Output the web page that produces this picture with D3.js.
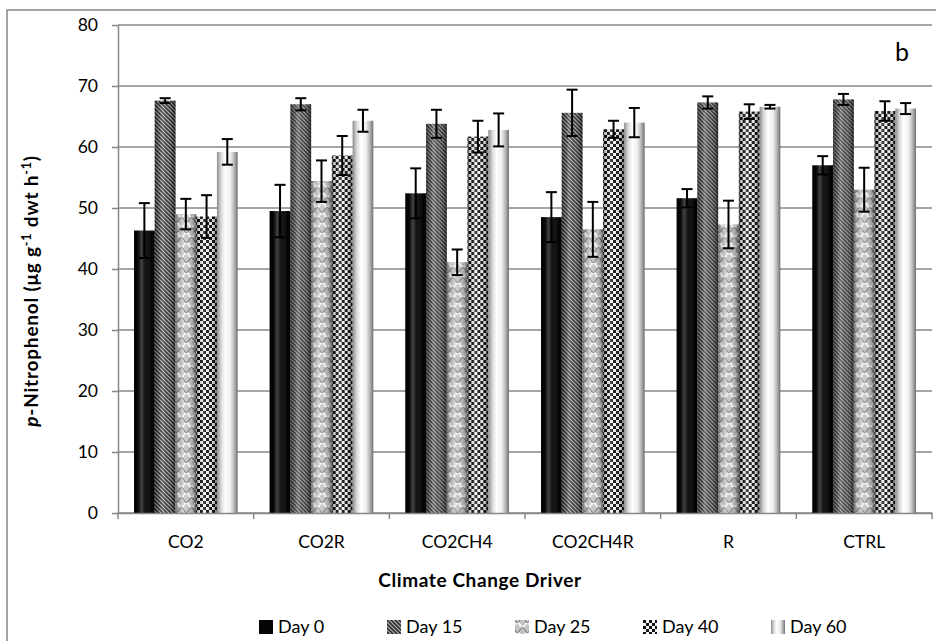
<!DOCTYPE html>
<html>
<head>
<meta charset="utf-8">
<script src="https://cdn.jsdelivr.net/npm/d3@7"></script>
<style>
  body { margin: 0; background: #fff; }
  svg { display: block; font-family: Lato, "Liberation Sans", sans-serif; }
</style>
</head>
<body>
<svg id="chart" width="936" height="641"></svg>
<script>
// data
const drivers = ["CO2", "CO2R", "CO2CH4", "CO2CH4R", "R", "CTRL"];
const days = ["Day 0", "Day 15", "Day 25", "Day 40", "Day 60"];
const day0  = [46.3, 49.5, 52.4, 48.5, 51.6, 57.0];
const day15 = [67.6, 67.0, 63.8, 65.6, 67.3, 67.8];
const day25 = [49.0, 54.4, 41.1, 46.5, 47.3, 53.0];
const day40 = [48.6, 58.6, 61.7, 62.9, 65.8, 65.9];
const day60 = [59.2, 64.3, 62.8, 64.0, 66.6, 66.3];
const err0  = [4.5, 4.3, 4.1, 4.1, 1.5, 1.5];
const err15 = [0.4, 1.0, 2.3, 3.8, 1.0, 0.9];
const err25 = [2.5, 3.4, 2.1, 4.5, 3.9, 3.6];
const err40 = [3.5, 3.2, 2.6, 1.4, 1.2, 1.6];
const err60 = [2.1, 1.8, 2.7, 2.4, 0.3, 0.9];
const yTicks = [0, 10, 20, 30, 40, 50, 60, 70, 80];

const series = [day0, day15, day25, day40, day60];
const errors = [err0, err15, err25, err40, err60];
const rows = [];
drivers.forEach((d, i) => days.forEach((k, j) => rows.push({driver: d, day: k, j, value: series[j][i], err: errors[j][i]})));

const svg = d3.select("#chart");
const grey = "#878787";
const plotL = 118, plotR = 932, plotT = 25, plotB = 513;

const x0 = d3.scaleBand().domain(drivers).range([plotL, plotR]).paddingInner(0.236).paddingOuter(0.118);
const x1 = d3.scaleBand().domain(days).range([0, x0.bandwidth()]);
const y = d3.scaleLinear().domain([0, 80]).range([plotB, plotT]);

// ---- patterns / shading
const defs = svg.append("defs");

const shade = defs.append("linearGradient").attr("id", "shade");
[[0, "#000", 0.45], [0.15, "#000", 0.1], [0.35, "#fff", 0.25], [0.55, "#fff", 0.05], [0.85, "#000", 0.2], [1, "#000", 0.55]]
  .forEach(([o, c, a]) => shade.append("stop").attr("offset", o).attr("stop-color", c).attr("stop-opacity", a));

const p15 = defs.append("pattern").attr("id", "p15").attr("patternUnits", "userSpaceOnUse")
  .attr("width", 4).attr("height", 4);
p15.append("rect").attr("width", 4).attr("height", 4).attr("fill", "#b4b4b4");
p15.append("path").attr("d", "M-1,-1 L5,5 M-1,3 L1,5 M3,-1 L5,1").attr("stroke", "#2e2e2e").attr("stroke-width", 1.6);

const p25 = defs.append("pattern").attr("id", "p25").attr("patternUnits", "userSpaceOnUse")
  .attr("width", 10).attr("height", 10);
p25.append("rect").attr("width", 10).attr("height", 10).attr("fill", "#c4c4c4");
p25.append("path").attr("d", "M0,5 Q2.5,0 5,5 Q7.5,10 10,5").attr("fill", "none").attr("stroke", "#f8f8f8").attr("stroke-width", 2.2);
p25.append("path").attr("d", "M0,0 Q2.5,5 5,0 M5,10 Q7.5,5 10,10").attr("fill", "none").attr("stroke", "#7a7a7a").attr("stroke-width", 1.2);

const p40 = defs.append("pattern").attr("id", "p40").attr("patternUnits", "userSpaceOnUse")
  .attr("width", 6).attr("height", 6);
p40.append("rect").attr("width", 6).attr("height", 6).attr("fill", "#f2f2f2");
p40.append("rect").attr("width", 3).attr("height", 3).attr("fill", "#111");
p40.append("rect").attr("x", 3).attr("y", 3).attr("width", 3).attr("height", 3).attr("fill", "#111");

const g60 = defs.append("linearGradient").attr("id", "g60");
[[0, "#8c8c8c"], [0.2, "#d8d8d8"], [0.4, "#ffffff"], [0.65, "#eeeeee"], [0.85, "#b0b0b0"], [1, "#6e6e6e"]]
  .forEach(([o, c]) => g60.append("stop").attr("offset", o).attr("stop-color", c));

const fills = {"Day 0": "#050505", "Day 15": "url(#p15)", "Day 25": "url(#p25)", "Day 40": "url(#p40)", "Day 60": "url(#g60)"};

// ---- outer frame
svg.append("rect").attr("x", 7).attr("y", 10).attr("width", 960).attr("height", 660)
  .attr("fill", "none").attr("stroke", grey).attr("stroke-width", 1.5);

// ---- gridlines + y axis
svg.append("g").selectAll("line").data(yTicks).join("line")
  .attr("x1", plotL).attr("x2", plotR).attr("y1", d => y(d)).attr("y2", d => y(d))
  .attr("stroke", grey).attr("stroke-width", 1.5);

const yAxis = svg.append("g").attr("transform", `translate(${plotL},0)`)
  .call(d3.axisLeft(y).tickValues(yTicks).tickSizeInner(6).tickSizeOuter(0).tickPadding(14));
yAxis.select(".domain").attr("stroke", grey).attr("stroke-width", 1.5);
yAxis.selectAll(".tick line").attr("stroke", grey).attr("stroke-width", 1.5);
yAxis.selectAll("text").attr("font-size", 17.5).attr("fill", "#000").attr("font-family", "Lato");

// ---- bars
const groups = svg.append("g").selectAll("g").data(drivers).join("g")
  .attr("transform", d => `translate(${x0(d)},0)`);

const bars = groups.selectAll("g.bar").data(d => rows.filter(r => r.driver === d)).join("g").attr("class", "bar");
bars.append("rect")
  .attr("x", d => x1(d.day)).attr("width", x1.bandwidth())
  .attr("y", d => y(d.value)).attr("height", d => y(0) - y(d.value))
  .attr("fill", d => fills[d.day]);
bars.filter(d => d.day !== "Day 60").append("rect")
  .attr("x", d => x1(d.day)).attr("width", x1.bandwidth())
  .attr("y", d => y(d.value)).attr("height", d => y(0) - y(d.value))
  .attr("fill", "url(#shade)");

// error bars
const eb = bars.append("g").attr("stroke", "#000").attr("stroke-width", 2);
const cx = d => x1(d.day) + x1.bandwidth() / 2;
eb.append("line").attr("x1", cx).attr("x2", cx).attr("y1", d => y(d.value + d.err)).attr("y2", d => y(d.value - d.err));
eb.append("line").attr("x1", d => cx(d) - 5.5).attr("x2", d => cx(d) + 5.5).attr("y1", d => y(d.value + d.err)).attr("y2", d => y(d.value + d.err));
eb.append("line").attr("x1", d => cx(d) - 5.5).attr("x2", d => cx(d) + 5.5).attr("y1", d => y(d.value - d.err)).attr("y2", d => y(d.value - d.err));

// ---- x axis
const xAxis = svg.append("g").attr("transform", `translate(0,${plotB})`)
  .call(d3.axisBottom(x0).tickSize(0).tickPadding(23));
xAxis.select(".domain").attr("stroke", grey).attr("stroke-width", 1.5);
xAxis.selectAll("text").attr("font-size", 17.5).attr("fill", "#000").attr("font-family", "Lato");
const bounds = drivers.map(d => x0(d) - x0.step() * x0.paddingOuter()).concat([plotR]);
svg.append("g").selectAll("line").data(bounds).join("line")
  .attr("x1", d => d).attr("x2", d => d).attr("y1", plotB).attr("y2", plotB + 6)
  .attr("stroke", grey).attr("stroke-width", 1.5);

// ---- titles
svg.append("text").attr("x", 480).attr("y", 587).attr("text-anchor", "middle")
  .attr("font-size", 19).attr("letter-spacing", 0.6).attr("font-weight", "bold").text("Climate Change Driver");

const yt = svg.append("text").attr("transform", "translate(38,291) rotate(-90)")
  .attr("text-anchor", "middle").attr("font-size", 19).attr("letter-spacing", 0.8).attr("font-weight", "bold");
yt.append("tspan").attr("font-style", "italic").text("p");
yt.append("tspan").text("-Nitrophenol (μg g");
yt.append("tspan").attr("font-size", 12.5).attr("dy", -7).text("-1");
yt.append("tspan").attr("dy", 7).text(" dwt h");
yt.append("tspan").attr("font-size", 12.5).attr("dy", -7).text("-1");
yt.append("tspan").attr("dy", 7).text(")");

svg.append("text").attr("x", 902).attr("y", 61).attr("text-anchor", "middle")
  .attr("font-size", 25).text("b");

// ---- legend
const leg = svg.append("g").selectAll("g").data(days).join("g")
  .attr("transform", (d, i) => `translate(${259 + i * 128},620)`);
leg.append("rect").attr("width", 14).attr("height", 14).attr("fill", d => fills[d]);
leg.append("text").attr("x", 19).attr("y", 13).attr("font-size", 18).text(d => d);
</script>
</body>
</html>
